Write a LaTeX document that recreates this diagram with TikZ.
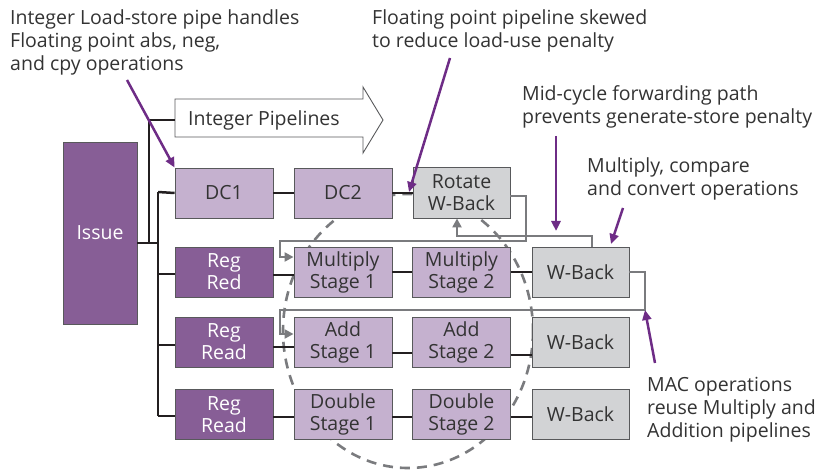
\documentclass[tikz,border=0pt]{standalone}
\usepackage{fontspec}
\setmainfont{Open Sans}
\usetikzlibrary{arrows.meta}
\definecolor{dpurple}{HTML}{875E96}
\definecolor{lpurple}{HTML}{C5B1CF}
\definecolor{lgray}{HTML}{D2D3D5}
\definecolor{bord}{HTML}{58595B}
\definecolor{txt}{HTML}{333333}
\definecolor{fb}{HTML}{7A7B7E}
\definecolor{ann}{HTML}{6E2C86}
\definecolor{blk}{HTML}{231F20}
\tikzset{
  box/.style={draw=bord, line width=0.9pt, minimum width=98pt, minimum height=50pt, inner sep=0pt, align=center, font=\fontsize{19.5}{22}\selectfont, text=txt},
  dbox/.style={box, fill=dpurple, text=white},
  lbox/.style={box, fill=lpurple},
  gbox/.style={box, fill=lgray},
  conn/.style={draw=blk, line width=2.5pt},
  fbk/.style={draw=fb, line width=2.8pt},
  fbarrow/.style={fbk, -{Triangle[length=9pt,width=9pt]}},
  annarrow/.style={draw=ann, line width=2.5pt, -{Triangle[length=10pt,width=9pt]}},
  lbl/.style={anchor=north west, align=left, inner sep=0pt, text=txt, font=\fontsize{19.5}{23}\selectfont},
}
\begin{document}
\begin{tikzpicture}[x=1pt,y=-1pt]
\useasboundingbox (0,0) rectangle (830,473);
% dashed ellipse
\draw[draw=fb, line width=2.6pt, dash pattern=on 10pt off 7pt] (408,331) ellipse [x radius=125, y radius=137];
% integer pipelines arrow
\filldraw[fill=white, draw=bord, line width=0.9pt] (175,99) -- (363,99) -- (363,87) -- (383,120) -- (363,153) -- (363,137) -- (175,137) -- cycle;
\node[anchor=west, inner sep=0pt, text=txt, font=\fontsize{19.5}{22}\selectfont] (intp) at (188,120) {Integer Pipelines};
\coordinate (intin) at (175,120);
% boxes
\node[dbox, minimum width=74pt, minimum height=182pt] (issue) at (100,233) {Issue};
\node[lbox] (dc1) at (224,193) {DC1};
\node[lbox] (dc2) at (343,193) {DC2};
\node[gbox, minimum width=97pt, minimum height=51pt] (rot) at (461.5,192.5) {Rotate\\W-Back};
\node[dbox] (rr1) at (224,272) {Reg\\Red};
\node[lbox] (m1) at (343,272) {Multiply\\Stage 1};
\node[lbox] (m2) at (461.5,272) {Multiply\\Stage 2};
\node[gbox, minimum width=97pt] (wb1) at (580.5,272) {W-Back};
\node[dbox] (rr2) at (224,342) {Reg\\Read};
\node[lbox] (a1) at (343,342) {Add\\Stage 1};
\node[lbox] (a2) at (461.5,342) {Add\\Stage 2};
\node[gbox, minimum width=97pt] (wb2) at (580.5,342) {W-Back};
\node[dbox] (rr3) at (224,414.5) {Reg\\Read};
\node[lbox] (d1) at (343,414.5) {Double\\Stage 1};
\node[lbox] (d2) at (461.5,414.5) {Double\\Stage 2};
\node[gbox, minimum width=97pt] (wb3) at (580.5,414.5) {W-Back};
% issue bus
\coordinate (iss) at (137,243);
\coordinate (busm) at (158,243);
\coordinate (bust) at (158,192);
\coordinate (busb) at (158,416);
\coordinate (bus2) at (149,243);
\coordinate (bus2t) at (149,120);
\draw[conn] (iss) -- (busm);
\draw[conn] (bust) -- (busb);
\draw[conn] (bus2) -- (bus2t) -- (intin);
\draw[conn] (bust) -- (dc1.west);
\draw[conn] (158,274) -- (rr1.west |- 0,274);
\draw[conn] (158,345) -- (rr2.west |- 0,345);
\draw[conn] (busb) -- (rr3.west |- busb);
% row connectors
\draw[conn] (dc1) -- (dc2);
\draw[conn] (dc2.east) -- (rot.west |- dc2.east);
\draw[conn] (rr1.east |- 0,275) -- (m1.west |- 0,275);
\draw[conn] (m1) -- (m2);
\draw[conn] (m2) -- (wb1);
\draw[conn] (rr2.east |- 0,347) -- (a1.west |- 0,347);
\draw[conn] (a1.east |- 0,353) -- (a2.west |- 0,353);
\draw[conn] (a2.east |- 0,355) -- (wb2.west |- 0,355);
\draw[conn] (rr3.east |- 0,417) -- (d1.west |- 0,417);
\draw[conn] (d1.east |- 0,417) -- (d2.west |- 0,417);
\draw[conn] (d2.east |- 0,417) -- (wb3.west |- 0,417);
% feedback paths
\coordinate (r1) at (526,196);
\coordinate (r2) at (526,241);
\coordinate (r3) at (280,241);
\coordinate (r4) at (280,257);
\draw[fbarrow] (rot.east |- r1) -- (r1) -- (r2) -- (r3) -- (r4) -- (m1.west |- r4);
\coordinate (f1) at (592,236);
\coordinate (f2) at (457,236);
\draw[fbarrow] (wb1.north -| f1) -- (f1) -- (f2) -- (rot.south -| f2);
\coordinate (g1) at (645,272);
\coordinate (g2) at (645,310);
\coordinate (g3) at (280,310);
\coordinate (g4) at (280,334);
\draw[fbarrow] (wb1.east) -- (g1) -- (g2) -- (g3) -- (g4) -- (a1.west |- g4);
% annotations
\node[lbl] (t1) at (10,9) {Integer Load-store pipe handles\\Floating point abs, neg,\\and cpy operations};
\node[lbl] (t2) at (372,9) {Floating point pipeline skewed\\to reduce load-use penalty};
\node[lbl] (t3) at (522,85) {Mid-cycle forwarding path\\prevents generate-store penalty};
\node[lbl] (t4) at (587,157) {Multiply, compare\\and convert operations};
\node[lbl] (t5) at (647,377) {MAC operations\\reuse Multiply and\\Addition pipelines};
\coordinate (a1s) at (127,80);
\draw[annarrow] (a1s) -- (dc1.north west);
\coordinate (a2s) at (450,58);
\coordinate (a2e) at (409,192);
\draw[annarrow] (a2s) -- (a2e);
\coordinate (a3s) at (556,136);
\coordinate (a3e) at (556,231);
\draw[annarrow] (a3s) -- (a3e);
\coordinate (a4s) at (623,208);
\coordinate (a4e) at (611,244);
\draw[annarrow] (a4s) -- (a4e);
\coordinate (a5s) at (655,363);
\draw[annarrow] (a5s) -- (g2);
\end{tikzpicture}
\end{document}
